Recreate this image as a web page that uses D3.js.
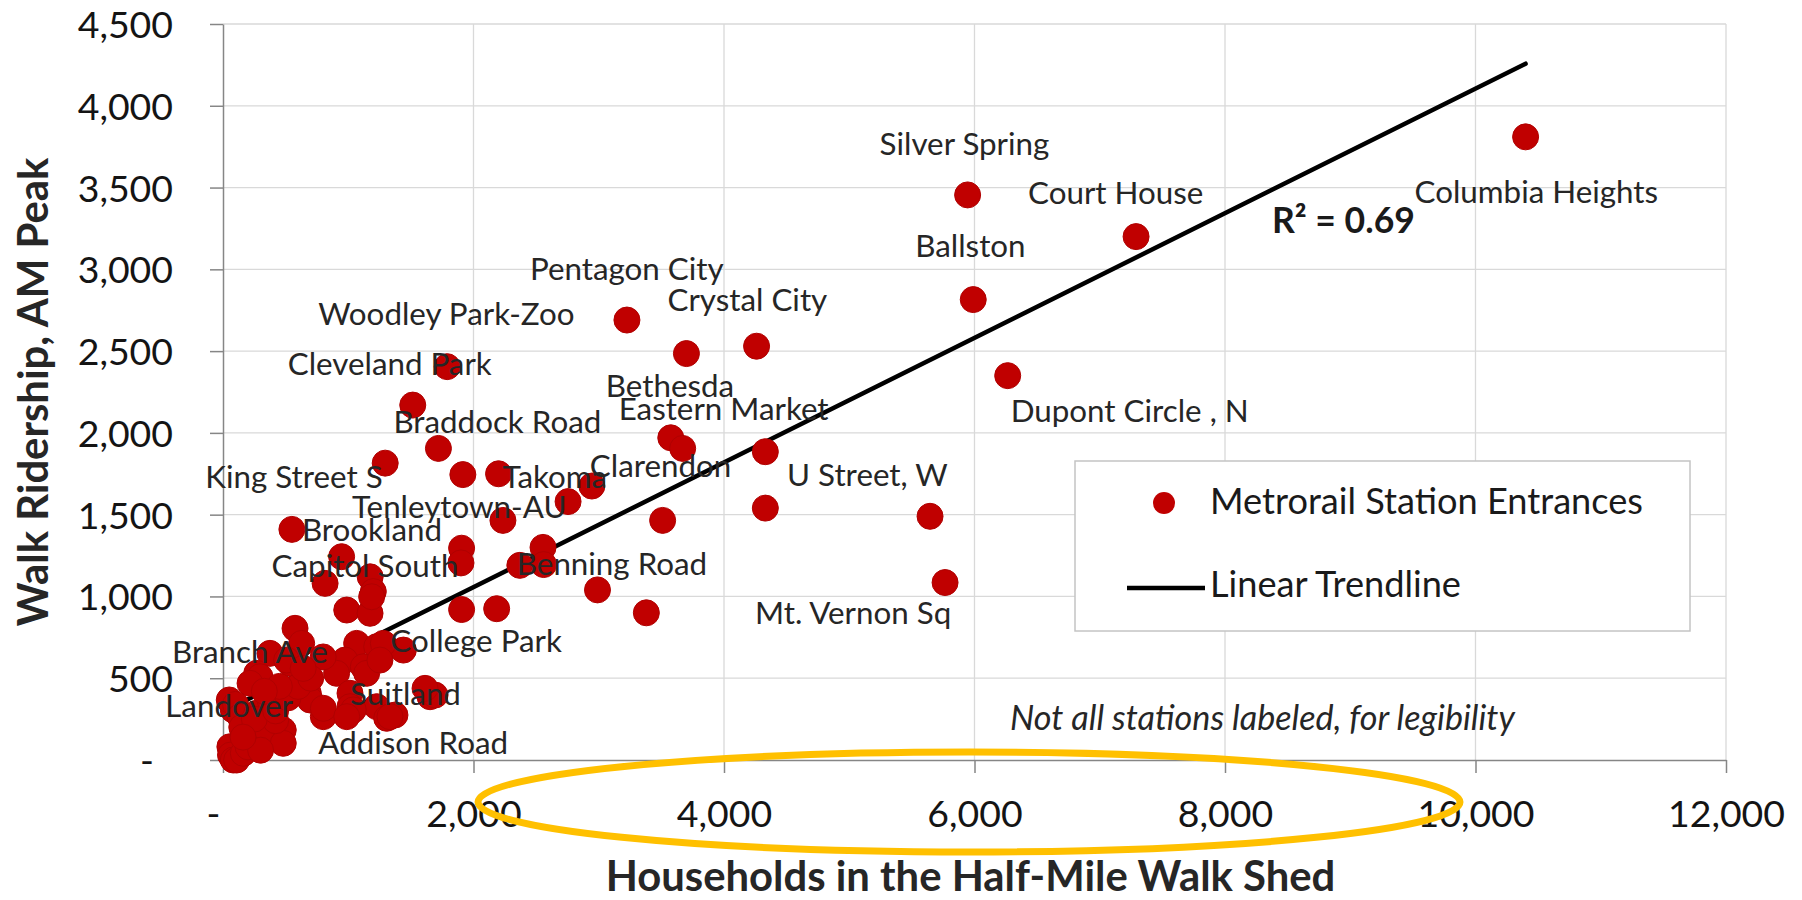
<!DOCTYPE html>
<html><head><meta charset="utf-8">
<script src="https://cdn.jsdelivr.net/npm/d3@7"></script>
<style>html,body{margin:0;padding:0;background:#fff;} svg{display:block;}</style>
</head><body>
<svg id="chart" width="1802" height="900"></svg>
<script>
// ---------------- DATA ----------------
// Labeled stations come first in the value arrays (same order as labelNames)
const labelNames = [
  "Columbia Heights","Silver Spring","Court House","Ballston","Dupont Circle , N",
  "Pentagon City","Crystal City","Woodley Park-Zoo","Cleveland Park","Braddock Road",
  "Bethesda","Eastern Market","King Street S","Takoma","Clarendon",
  "U Street, W","Tenleytown-AU","Brookland","Capitol South","Benning Road",
  "Mt. Vernon Sq","College Park","Branch Ave","Suitland","Landover","Addison Road"
];
const households = [
  10400,5945,7290,5990,6265, 3225,4260,1790,1515,1720, 3575,3670,1295,2200,2945,
  5645,2235,550,947,2370, 5765,1440,375,1653,82, 801,
  // unlabeled stations
  3700,4330,4330,3510,3380,2990,2755,2555,2560,2185,1905,1905,1900,1915,
  815,1175,1200,988,1174,1187,575,628,1067,1227,1280,974,907,1120,1147,1253,
  269,535,508,295,216,800,1693,1613,1014,1227,681,695,801,1014,1040,988,1307,1373,1333,
  50,100,136,269,481,375,55,60,82,109,216,216,349,320,162,481,420,
  150,200,300,250,420,520,600,450,160,330,700,640
];
const ridership = [
  3810,3455,3200,2815,2350, 2690,2530,2405,2170,1905, 1970,1905,1815,1750,1675,
  1490,1465,1410,1243,1190, 1085,672,652,387,306, 265,
  2485,1885,1540,1465,900,1040,1580,1300,1195,925,920,1295,1205,1745,
  1080,1120,1030,917,897,998,805,713,713,693,713,611,530,570,530,611,
  530,591,611,509,469,630,397,438,408,326,408,367,316,326,306,265,255,275,265,
  367,340,265,286,183,367,81,30,0,0,122,143,204,150,41,102,240,
  200,80,60,250,300,380,450,450,140,420,500,560
];
const xTicks = [0,2000,4000,6000,8000,10000,12000];
const yTicks = [0,500,1000,1500,2000,2500,3000,3500,4000,4500];
const legendLabels = ["Metrorail Station Entrances","Linear Trendline"];
const trendSlope = 0.381, trendIntercept = 295;
const r2Text = "R\u00B2 = 0.69";
const noteText = "Not all stations labeled, for legibility";
const xTitle = "Households in the Half-Mile Walk Shed";
const yTitle = "Walk Ridership, AM Peak";

// ---------------- LAYOUT (label offsets in px from the marker) ----------------
const labelOffsets = [
  [-111,66],[-88,-40],[-108,-33],[-58,-43],[3,46],
  [-97,-40],[-89,-35],[-129,-42],[-125,-30],[-45,-15],
  [-65,-41],[-64,-28],[-180,25],[4,14],[-2,-9],
  [-143,-30],[-151,-2],[10,12],[-70,20],[-3,10],
  [-190,41],[-13,2],[-98,10],[-80,8],[-68,7],[-5,37]
];

const FONT = "Lato, 'Open Sans', sans-serif";
const svg = d3.select("#chart");

function fitSize(text, target, weight, style) {
  const t = svg.append("text").attr("font-family", FONT).attr("font-size", 100)
    .attr("font-weight", weight || "normal").attr("font-style", style || "normal").text(text);
  const w = t.node().getComputedTextLength();
  t.remove();
  return 100 * target / w;
}
const tickSize = fitSize("12,000", 117);
const labelSize = fitSize("Braddock Road", 208);
const legendSize = fitSize("Linear Trendline", 251);
const noteSize = fitSize(noteText, 505, "normal", "italic");
const r2Size = fitSize(r2Text, 143, "bold");
const titleSize = fitSize(xTitle, 730, "bold");

const x = d3.scaleLinear().domain([0, 12000]).range([223, 1726]);
const y = d3.scaleLinear().domain([0, 4500]).range([760, 24]);
const fmt = d => d === 0 ? "-" : d3.format(",")(d);

// gridlines
const grid = svg.append("g");
grid.selectAll("line.v").data(xTicks.filter(d => d > 0)).join("line")
  .attr("x1", d => x(d)).attr("x2", d => x(d)).attr("y1", y(4500)).attr("y2", y(0))
  .attr("stroke", "#d9d9d9").attr("stroke-width", 1.3);
grid.selectAll("line.h").data(yTicks.filter(d => d > 0)).join("line")
  .attr("x1", x(0)).attr("x2", x(12000)).attr("y1", d => y(d)).attr("y2", d => y(d))
  .attr("stroke", "#d9d9d9").attr("stroke-width", 1.3);

// axes
const xAxis = svg.append("g").attr("transform", `translate(0,${y(0)})`)
  .call(d3.axisBottom(x).tickValues(xTicks).tickSize(13).tickFormat(fmt).tickSizeOuter(0));
const yAxis = svg.append("g").attr("transform", `translate(${x(0)},0)`)
  .call(d3.axisLeft(y).tickValues(yTicks).tickSize(13).tickFormat(fmt).tickSizeOuter(0));
[xAxis, yAxis].forEach(a => {
  a.select(".domain").attr("stroke", "#868686").attr("stroke-width", 1.5);
  a.selectAll(".tick line").attr("stroke", "#868686").attr("stroke-width", 1.5);
  a.selectAll(".tick text").attr("font-family", FONT).attr("font-size", tickSize)
    .attr("fill", "#141414");
});
xAxis.selectAll(".tick text").attr("y", 0).attr("dy", 0)
  .attr("transform", "translate(0,67)")
  .attr("dx", d => d === 0 ? -10 : 0);
yAxis.selectAll(".tick text").attr("x", -50).attr("dy", "0.36em")
  .attr("dx", d => d === 0 ? -19 : 0);

// trendline
const xMin = d3.min(households), xMax = d3.max(households);
svg.append("line")
  .attr("x1", x(xMin)).attr("y1", y(trendIntercept + trendSlope * xMin))
  .attr("x2", x(xMax)).attr("y2", y(trendIntercept + trendSlope * xMax))
  .attr("stroke", "#000").attr("stroke-width", 4.5).attr("stroke-linecap", "round");

// points
const pts = households.map((h, i) => ({ h, r: ridership[i], i }));
svg.append("g").selectAll("circle").data(pts).join("circle")
  .attr("cx", d => x(d.h)).attr("cy", d => y(d.r)).attr("r", 13)
  .attr("fill", "#c00000").attr("stroke", "#b00000").attr("stroke-width", 1);

// data labels
svg.append("g").selectAll("text").data(labelNames).join("text")
  .attr("x", (d, i) => x(households[i]) + labelOffsets[i][0])
  .attr("y", (d, i) => y(ridership[i]) + labelOffsets[i][1])
  .attr("font-family", FONT).attr("font-size", labelSize).attr("fill", "#262626")
  .text(d => d);

// R2
svg.append("text").attr("x", 1272).attr("y", 233).attr("font-family", FONT)
  .attr("font-weight", "bold").attr("font-size", r2Size).attr("fill", "#1a1a1a").text(r2Text);

// note
svg.append("text").attr("x", 1010).attr("y", 730).attr("font-family", FONT)
  .attr("font-style", "italic").attr("font-size", noteSize).attr("fill", "#262626").text(noteText);

// legend
const lg = svg.append("g");
lg.append("rect").attr("x", 1075).attr("y", 461).attr("width", 615).attr("height", 170)
  .attr("fill", "#fff").attr("stroke", "#c4c4c4").attr("stroke-width", 1.5);
lg.append("circle").attr("cx", 1164).attr("cy", 503).attr("r", 11).attr("fill", "#c00000");
lg.append("line").attr("x1", 1127).attr("x2", 1205).attr("y1", 588).attr("y2", 588)
  .attr("stroke", "#000").attr("stroke-width", 4.5);
lg.selectAll("text").data(legendLabels).join("text")
  .attr("x", 1210).attr("y", (d, i) => i === 0 ? 514 : 597)
  .attr("font-family", FONT).attr("font-size", legendSize).attr("fill", "#1a1a1a").text(d => d);

// axis titles
svg.append("text").attr("x", (x(0) + x(12000)) / 2 - 4).attr("y", 891).attr("text-anchor", "middle")
  .attr("font-family", FONT).attr("font-weight", "bold").attr("font-size", titleSize)
  .attr("fill", "#262626").text(xTitle);
svg.append("text").attr("transform", `translate(48,${(y(0) + y(4500)) / 2}) rotate(-90)`)
  .attr("text-anchor", "middle").attr("font-family", FONT).attr("font-weight", "bold")
  .attr("font-size", titleSize).attr("fill", "#262626").text(yTitle);

// highlight ellipse
svg.append("ellipse").attr("cx", 969).attr("cy", 802).attr("rx", 491).attr("ry", 50)
  .attr("fill", "none").attr("stroke", "#ffc000").attr("stroke-width", 7);
</script>
</body></html>
